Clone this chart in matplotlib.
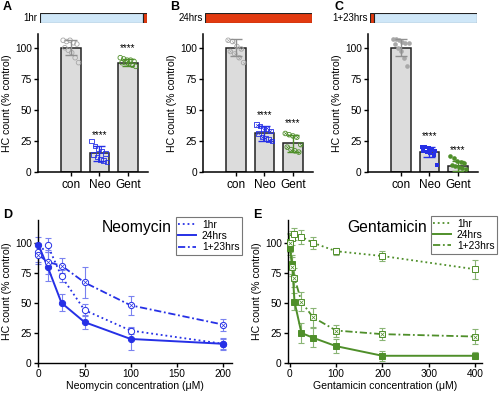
import matplotlib.pyplot as plt
import numpy as np

plt.rcParams['font.family'] = ['Liberation Sans', 'DejaVu Sans']

# bar panels
groups = ['con', 'Neo', 'Gent']
timeline_labels = ['1hr', '24hrs', '1+23hrs']
letters_top = ['A', 'B', 'C']

means = [[100, 15, 88], [100, 31, 23], [100, 16, 5]]
sds = [[6, 6, 3], [7, 6, 7], [7, 4, 4]]

pts_A = [
    [106, 105, 106, 104, 103, 100, 98, 96, 92, 88],
    [25, 21, 19, 17, 15, 14, 12, 10, 9, 8],
    [92, 91, 90, 90, 89, 88, 88, 87, 86, 85],
]
pts_B = [
    [106, 105, 101, 99, 97, 95, 92, 88],
    [38, 37, 35, 35, 33, 31, 28, 27, 26, 25],
    [31, 30, 29, 28, 22, 20, 18, 17, 16],
]
pts_C = [
    [107, 107, 106, 105, 104, 104, 103, 100, 97, 92, 85],
    [20, 20, 19, 18, 17, 17, 16, 15, 14, 6],
    [13, 11, 9, 8, 7, 6, 5, 4, 3, 2],
]
all_pts = [pts_A, pts_B, pts_C]

# timeline segments (hours): light blue / red
timelines = [[(0, 23, 'blue'), (23, 1, 'red')],
             [(0, 24, 'red')],
             [(0, 1, 'red'), (1, 23, 'blue')]]

# dose-response
neo_x = [0, 10, 25, 50, 100, 200]
neo_1hr = [92, 98, 72, 44, 27, 16]
neo_1hr_err = [8, 6, 5, 5, 3, 5]
neo_24 = [98, 80, 50, 34, 20, 16]
neo_24_err = [7, 12, 7, 6, 9, 4]
neo_123 = [90, 84, 81, 67, 48, 32]
neo_123_err = [8, 10, 6, 13, 8, 5]

gen_x = [0, 5, 10, 25, 50, 100, 200, 400]
gen_1hr = [101, 104, 107, 105, 100, 93, 89, 78]
gen_1hr_err = [6, 6, 5, 6, 5, 3, 4, 8]
gen_24 = [96, 82, 51, 25, 21, 14, 6, 6]
gen_24_err = [6, 8, 7, 8, 8, 6, 4, 3]
gen_123 = [100, 80, 71, 51, 38, 27, 24, 22]
gen_123_err = [8, 8, 8, 8, 8, 5, 5, 6]

blue = '#2630e6'
blue_l = '#7a82f0'
green = '#4f8f2a'
green_l = '#8ab575'
grey = '#a8a8a8'
red = '#e23a10'
lblue = '#cfe7f8'
pcolors = [grey, blue, green]

fig = plt.figure(figsize=(5, 3.94), dpi=100)

bar_lefts = [0.076, 0.406, 0.736]
tl_lefts = [0.080, 0.410, 0.740]
for p in range(3):
    ax = fig.add_axes([bar_lefts[p], 0.5635, 0.22, 0.35])
    xs = np.arange(3)
    ax.bar(xs, means[p], width=0.68, color='#dcdcdc', edgecolor='#222222', linewidth=1.1, zorder=1)
    for g in range(3):
        vals = all_pts[p][g]
        n = len(vals)
        offs = np.linspace(-0.27, 0.27, n)
        offs = np.concatenate([offs[::2], offs[1::2]])
        c = pcolors[g]
        mk = 'o' if g != 1 else 's'
        if p < 2:
            ax.scatter(g + offs, vals, s=11, marker=mk, facecolors='none',
                       edgecolors=c, linewidths=0.6, zorder=3)
            if p == 1:
                ax.scatter(g + offs, vals, s=4, marker='x', color=c, linewidths=0.4, zorder=3)
        else:
            ax.scatter(g + offs, vals, s=11, marker=mk, color=c, linewidths=0, zorder=3)
        ax.errorbar(g, means[p][g], yerr=sds[p][g], color=c if g else '#909090',
                    capsize=4, elinewidth=1, capthick=1, zorder=4)
        if g > 0:
            ax.text(g, means[p][g] + sds[p][g] + 5, '****', ha='center', va='bottom', fontsize=7)
    ax.set_xlim(-1.15, 2.7)
    ax.set_ylim(0, 111)
    ax.set_yticks([0, 25, 50, 75, 100])
    ax.set_xticks(xs)
    ax.set_xticklabels(groups, fontsize=8.5)
    ax.tick_params(axis='y', labelsize=7.3, length=3, width=1, pad=1.5)
    ax.tick_params(axis='x', length=3, width=1, pad=2)
    ax.spines[['top', 'right']].set_visible(False)
    ax.spines[['left', 'bottom']].set_linewidth(1.1)
    ax.set_ylabel('HC count (% control)', fontsize=7.6, labelpad=2)

    tl = fig.add_axes([tl_lefts[p], 0.9416, 0.214, 0.0254])
    for start, width, col in timelines[p]:
        tl.barh(0, width, left=start, height=1, color=lblue if col == 'blue' else red,
                edgecolor='#222222', linewidth=0.8)
    tl.set_xlim(0, 24)
    tl.set_ylim(-0.5, 0.5)
    tl.axis('off')
    fig.text(tl_lefts[p] - 0.005, 0.954, timeline_labels[p], ha='right', va='center', fontsize=7)
    fig.text(bar_lefts[p] - 0.07 + (0.004 if p else 0), 0.982, letters_top[p],
             fontsize=9, fontweight='bold', va='center')


def dose_panel(ax, x, series, col, col_l, markers, title, xlabel, letter, lx):
    styles = [':', '-', (0, (4, 1.5, 1, 1.5))]
    labels = ['1hr', '24hrs', '1+23hrs']
    for i, (y, e) in enumerate(series):
        ax.errorbar(x, y, yerr=e, fmt='none', ecolor=col_l, capsize=2.5, elinewidth=0.8,
                    capthick=0.8, zorder=2, clip_on=False)
        face = col if i == 1 else 'white'
        ax.plot(x, y, linestyle=styles[i], color=col, linewidth=1.4 if i == 1 else 1.3,
                marker=markers, markersize=4.5, markerfacecolor=face, markeredgecolor=col,
                markeredgewidth=0.7, label=labels[i], zorder=3, clip_on=False)
        if i == 2:
            ax.plot(x, y, linestyle='none', marker='x', markersize=2.8, color=col,
                    markeredgewidth=0.5, zorder=4, clip_on=False)
    ax.set_ylim(0, 119)
    ax.set_yticks([0, 25, 50, 75, 100])
    ax.tick_params(labelsize=7.3, length=3, width=1, pad=1.5)
    ax.spines[['top', 'right']].set_visible(False)
    ax.spines[['left', 'bottom']].set_linewidth(1.0)
    ax.set_ylabel('HC count (% control)', fontsize=7.6, labelpad=2)
    ax.set_xlabel(xlabel, fontsize=7.6, labelpad=1.5)
    ax.text(0.51, 1.0, title, transform=ax.transAxes, ha='center', va='top', fontsize=11.3)
    fig.text(lx, 0.455, letter, fontsize=9, fontweight='bold', va='center')


def style_legend(leg):
    leg.get_frame().set_edgecolor('#555555')
    leg.get_frame().set_linewidth(0.8)


axD = fig.add_axes([0.076, 0.0787, 0.388, 0.363])
dose_panel(axD, neo_x, [(neo_1hr, neo_1hr_err), (neo_24, neo_24_err), (neo_123, neo_123_err)],
           blue, blue_l, 'o', 'Neomycin', 'Neomycin concentration (\u03bcM)', 'D', 0.006)
axD.set_xlim(-0.5, 210)
axD.set_xticks([0, 50, 100, 150, 200])
legD = axD.legend(loc='upper right', bbox_to_anchor=(0.484, 0.448), bbox_transform=fig.transFigure,
                  fontsize=7.4, frameon=True, fancybox=False, handlelength=1.7,
                  borderpad=0.25, labelspacing=0.1, handletextpad=0.6, borderaxespad=0,
                  markerscale=0)
style_legend(legD)

axE = fig.add_axes([0.576, 0.0787, 0.388, 0.363])
dose_panel(axE, gen_x, [(gen_1hr, gen_1hr_err), (gen_24, gen_24_err), (gen_123, gen_123_err)],
           green, green_l, 's', 'Gentamicin', 'Gentamicin concentration (\u03bcM)', 'E', 0.506)
axE.set_xlim(-4, 415)
axE.set_xticks([0, 100, 200, 300, 400])
legE = axE.legend(loc='upper right', bbox_to_anchor=(0.994, 0.451), bbox_transform=fig.transFigure,
                  fontsize=7.4, frameon=True, fancybox=False, handlelength=1.7,
                  borderpad=0.25, labelspacing=0.1, handletextpad=0.6, borderaxespad=0,
                  markerscale=0)
style_legend(legE)

fig.savefig('out.png', dpi=100)
